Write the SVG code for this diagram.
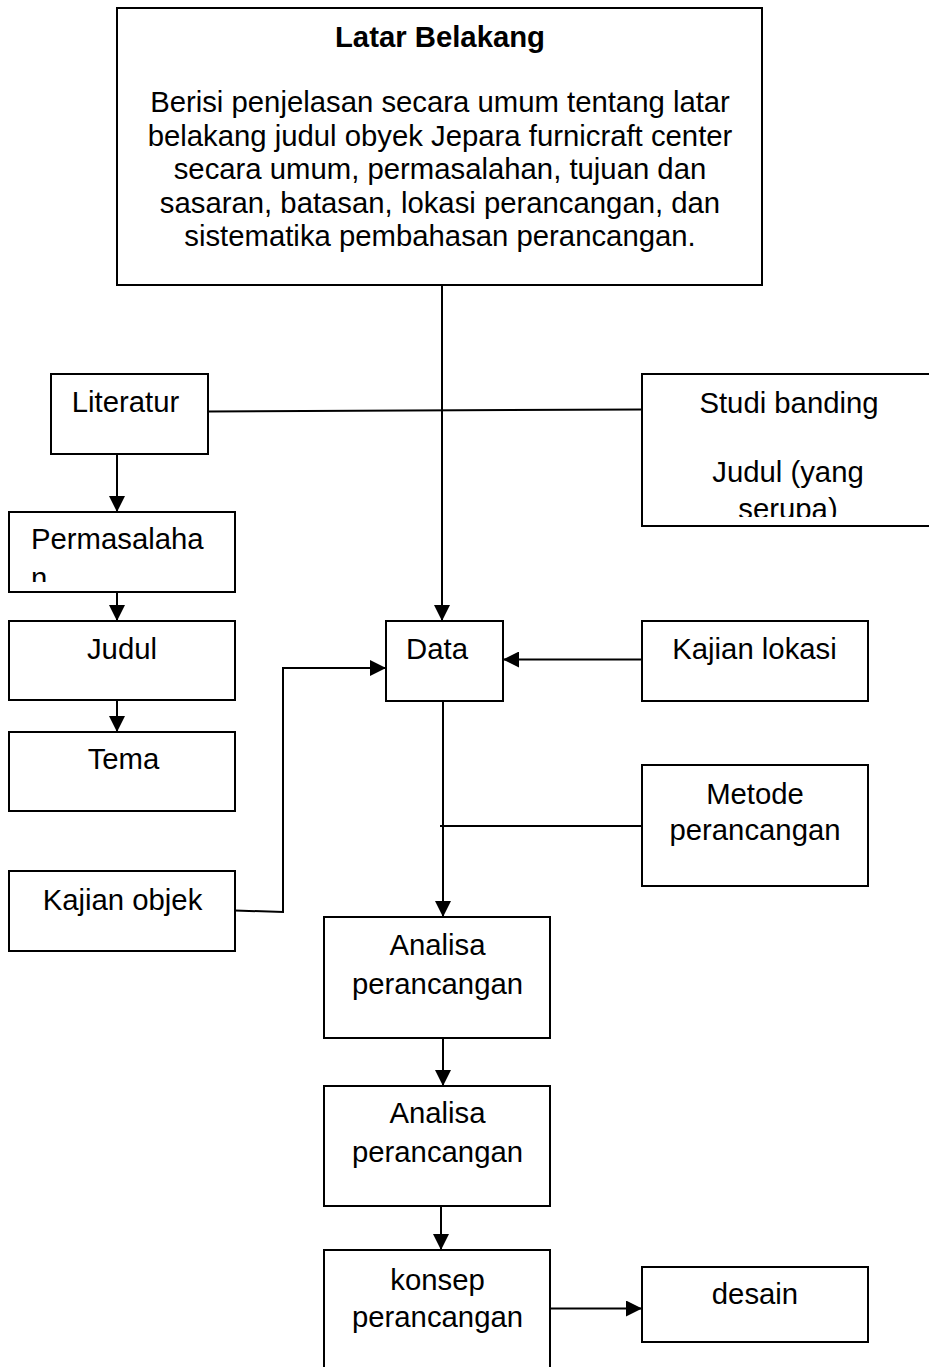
<svg xmlns="http://www.w3.org/2000/svg" width="929" height="1367" viewBox="0 0 929 1367">
  <style>
    .box { fill: #ffffff; stroke: #000000; stroke-width: 2; }
    .lbl { font-family: "Liberation Sans", Arial, sans-serif; font-size: 29.3px; fill: #000000; text-anchor: middle; }
    .ttl { font-weight: bold; }
    .wire { fill: none; stroke: #000000; stroke-width: 2; }
  </style>
  <defs>
    <marker id="head" markerUnits="userSpaceOnUse" markerWidth="16" markerHeight="16" refX="16" refY="8" orient="auto">
      <path d="M0,0 L16,8 L0,16 Z" fill="#000000"/>
    </marker>
    <clipPath id="clipMasalah"><rect x="10" y="513" width="224" height="69"/></clipPath>
    <clipPath id="clipStudi"><rect x="643" y="375" width="290" height="142"/></clipPath>
  </defs>

  <rect width="929" height="1367" fill="#ffffff"/>

  <!-- connectors -->
  <g id="connectors">
    <line class="wire" x1="442" y1="286" x2="442" y2="621" marker-end="url(#head)"/>
    <line class="wire" x1="208" y1="411.5" x2="642" y2="409.5"/>
    <line class="wire" x1="117" y1="454" x2="117" y2="512" marker-end="url(#head)"/>
    <line class="wire" x1="117" y1="592" x2="117" y2="621" marker-end="url(#head)"/>
    <line class="wire" x1="117" y1="700" x2="117" y2="732" marker-end="url(#head)"/>
    <polyline class="wire" points="235,910.5 283,912 283,668 386,668" marker-end="url(#head)"/>
    <line class="wire" x1="642" y1="659.5" x2="503" y2="659.5" marker-end="url(#head)"/>
    <line class="wire" x1="443" y1="701" x2="443" y2="917" marker-end="url(#head)"/>
    <line class="wire" x1="440" y1="826" x2="642" y2="826"/>
    <line class="wire" x1="443" y1="1038" x2="443" y2="1086" marker-end="url(#head)"/>
    <line class="wire" x1="441" y1="1206" x2="441" y2="1250" marker-end="url(#head)"/>
    <line class="wire" x1="550" y1="1308.5" x2="642" y2="1308.5" marker-end="url(#head)"/>
  </g>

  <!-- background / intro box -->
  <g id="latar-belakang">
    <rect class="box" x="117" y="8" width="645" height="277"/>
    <text class="lbl ttl" x="440" y="47">Latar Belakang</text>
    <text class="lbl" x="440" y="112">Berisi penjelasan secara umum tentang latar</text>
    <text class="lbl" x="440" y="145.5">belakang judul obyek Jepara furnicraft center</text>
    <text class="lbl" x="440" y="179">secara umum, permasalahan, tujuan dan</text>
    <text class="lbl" x="440" y="212.5">sasaran, batasan, lokasi perancangan, dan</text>
    <text class="lbl" x="440" y="246">sistematika pembahasan perancangan.</text>
  </g>

  <g id="literatur">
    <rect class="box" x="51" y="374" width="157" height="80"/>
    <text class="lbl" x="125.5" y="412">Literatur</text>
  </g>

  <g id="studi-banding">
    <rect class="box" x="642" y="374" width="300" height="152"/>
    <g clip-path="url(#clipStudi)">
      <text class="lbl" x="789" y="413">Studi banding</text>
      <text class="lbl" x="788" y="482">Judul (yang</text>
      <text class="lbl" x="788" y="519">serupa)</text>
    </g>
  </g>

  <g id="permasalahan">
    <rect class="box" x="9" y="512" width="226" height="80"/>
    <g clip-path="url(#clipMasalah)">
      <text class="lbl" x="31" y="549" text-anchor="start" style="text-anchor:start">Permasalaha</text>
      <text class="lbl" x="31" y="588" style="text-anchor:start">n</text>
    </g>
  </g>

  <g id="judul">
    <rect class="box" x="9" y="621" width="226" height="79"/>
    <text class="lbl" x="122" y="659">Judul</text>
  </g>

  <g id="tema">
    <rect class="box" x="9" y="732" width="226" height="79"/>
    <text class="lbl" x="123.5" y="769">Tema</text>
  </g>

  <g id="kajian-objek">
    <rect class="box" x="9" y="871" width="226" height="80"/>
    <text class="lbl" x="122.5" y="910">Kajian objek</text>
  </g>

  <g id="data">
    <rect class="box" x="386" y="621" width="117" height="80"/>
    <text class="lbl" x="437" y="659">Data</text>
  </g>

  <g id="kajian-lokasi">
    <rect class="box" x="642" y="621" width="226" height="80"/>
    <text class="lbl" x="754.5" y="659">Kajian lokasi</text>
  </g>

  <g id="metode-perancangan">
    <rect class="box" x="642" y="765" width="226" height="121"/>
    <text class="lbl" x="755" y="804">Metode</text>
    <text class="lbl" x="755" y="840">perancangan</text>
  </g>

  <g id="analisa-1">
    <rect class="box" x="324" y="917" width="226" height="121"/>
    <text class="lbl" x="437.5" y="955">Analisa</text>
    <text class="lbl" x="437.5" y="994">perancangan</text>
  </g>

  <g id="analisa-2">
    <rect class="box" x="324" y="1086" width="226" height="120"/>
    <text class="lbl" x="437.5" y="1123">Analisa</text>
    <text class="lbl" x="437.5" y="1162">perancangan</text>
  </g>

  <g id="konsep-perancangan">
    <rect class="box" x="324" y="1250" width="226" height="130"/>
    <text class="lbl" x="437.5" y="1290">konsep</text>
    <text class="lbl" x="437.5" y="1327">perancangan</text>
  </g>

  <g id="desain">
    <rect class="box" x="642" y="1267" width="226" height="75"/>
    <text class="lbl" x="755" y="1304">desain</text>
  </g>
</svg>
